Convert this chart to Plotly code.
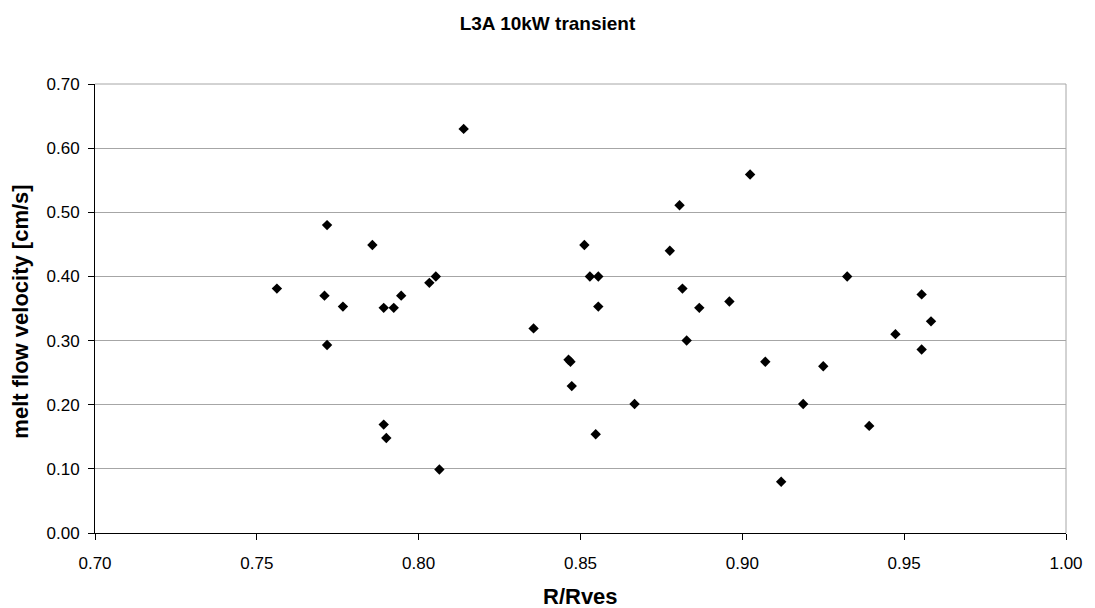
import plotly.graph_objects as go

r_rves = [0.7562, 0.7717, 0.7709, 0.7766, 0.7857, 0.7892, 0.7923, 0.7717, 0.7892, 0.7900,
          0.8139, 0.9024, 0.8806, 0.8512, 0.8776, 0.8529, 0.8555, 0.8815, 0.8053, 0.8033,
          0.7946, 0.8960, 0.8867, 0.8555, 0.8355, 0.8463, 0.8469, 0.8473, 0.8828, 0.9071,
          0.8667, 0.8547, 0.8064, 0.9324, 0.9554, 0.9583, 0.9473, 0.9554, 0.9250, 0.9188,
          0.9392, 0.9120]
velocity = [0.381, 0.480, 0.370, 0.353, 0.449, 0.351, 0.351, 0.293, 0.169, 0.148,
            0.630, 0.559, 0.511, 0.449, 0.440, 0.400, 0.400, 0.381, 0.400, 0.390,
            0.370, 0.361, 0.351, 0.353, 0.319, 0.270, 0.267, 0.229, 0.300, 0.267,
            0.201, 0.154, 0.099, 0.400, 0.372, 0.330, 0.310, 0.286, 0.260, 0.201,
            0.167, 0.080]

title_text = "L3A 10kW transient"
x_title = "R/Rves"
y_title = "melt flow velocity [cm/s]"
x_ticks = [0.70, 0.75, 0.80, 0.85, 0.90, 0.95, 1.00]
y_ticks = [0.00, 0.10, 0.20, 0.30, 0.40, 0.50, 0.60, 0.70]

FONT = "Liberation Sans, Arial, sans-serif"

fig = go.Figure()
fig.add_trace(go.Scatter(
    x=r_rves, y=velocity, mode="markers",
    marker=dict(symbol="diamond", size=8, color="black", line=dict(width=0)),
    showlegend=False, cliponaxis=False,
))

fig.update_layout(
    width=1095, height=608,
    margin=dict(l=95, r=24, t=84, b=75),
    paper_bgcolor="white", plot_bgcolor="white",
    font=dict(family=FONT, color="black", size=17),
    title=dict(text="<b>" + title_text + "</b>", x=0.5, xref="container", xanchor="center",
               y=1 - 23 / 608, yref="container", yanchor="middle",
               font=dict(family=FONT, size=19, color="black")),
    xaxis=dict(range=[0.70, 1.00], tickvals=x_ticks, tickformat=".2f",
               showgrid=False, zeroline=False, showline=True, linecolor="black", linewidth=1,
               ticks="outside", ticklen=6, tickcolor="black", ticklabelstandoff=9,
               tickfont=dict(family=FONT, size=17, color="black")),
    yaxis=dict(range=[0.0, 0.70], tickvals=y_ticks, tickformat=".2f",
               showgrid=True, gridcolor="#a6a6a6", gridwidth=1, zeroline=False,
               showline=True, linecolor="black", linewidth=1,
               ticks="outside", ticklen=6, tickcolor="black", ticklabelstandoff=5,
               tickfont=dict(family=FONT, size=17, color="black")),
    shapes=[
        dict(type="line", xref="paper", yref="paper", x0=1, x1=1, y0=0, y1=1,
             line=dict(color="#a6a6a6", width=1)),
        dict(type="line", xref="paper", yref="paper", x0=0, x1=1, y0=1, y1=1,
             line=dict(color="#a6a6a6", width=1)),
    ],
    annotations=[
        dict(text="<b>" + x_title + "</b>", xref="paper", yref="paper", x=0.5, y=0,
             xanchor="center", yanchor="middle", yshift=-63, showarrow=False,
             font=dict(family=FONT, size=22, color="black")),
        dict(text="<b>" + y_title + "</b>", xref="paper", yref="paper", x=0, y=0.493,
             xanchor="center", yanchor="middle", xshift=-74, textangle=-90, showarrow=False,
             font=dict(family=FONT, size=22, color="black")),
    ],
)

fig.write_html("out.html")
